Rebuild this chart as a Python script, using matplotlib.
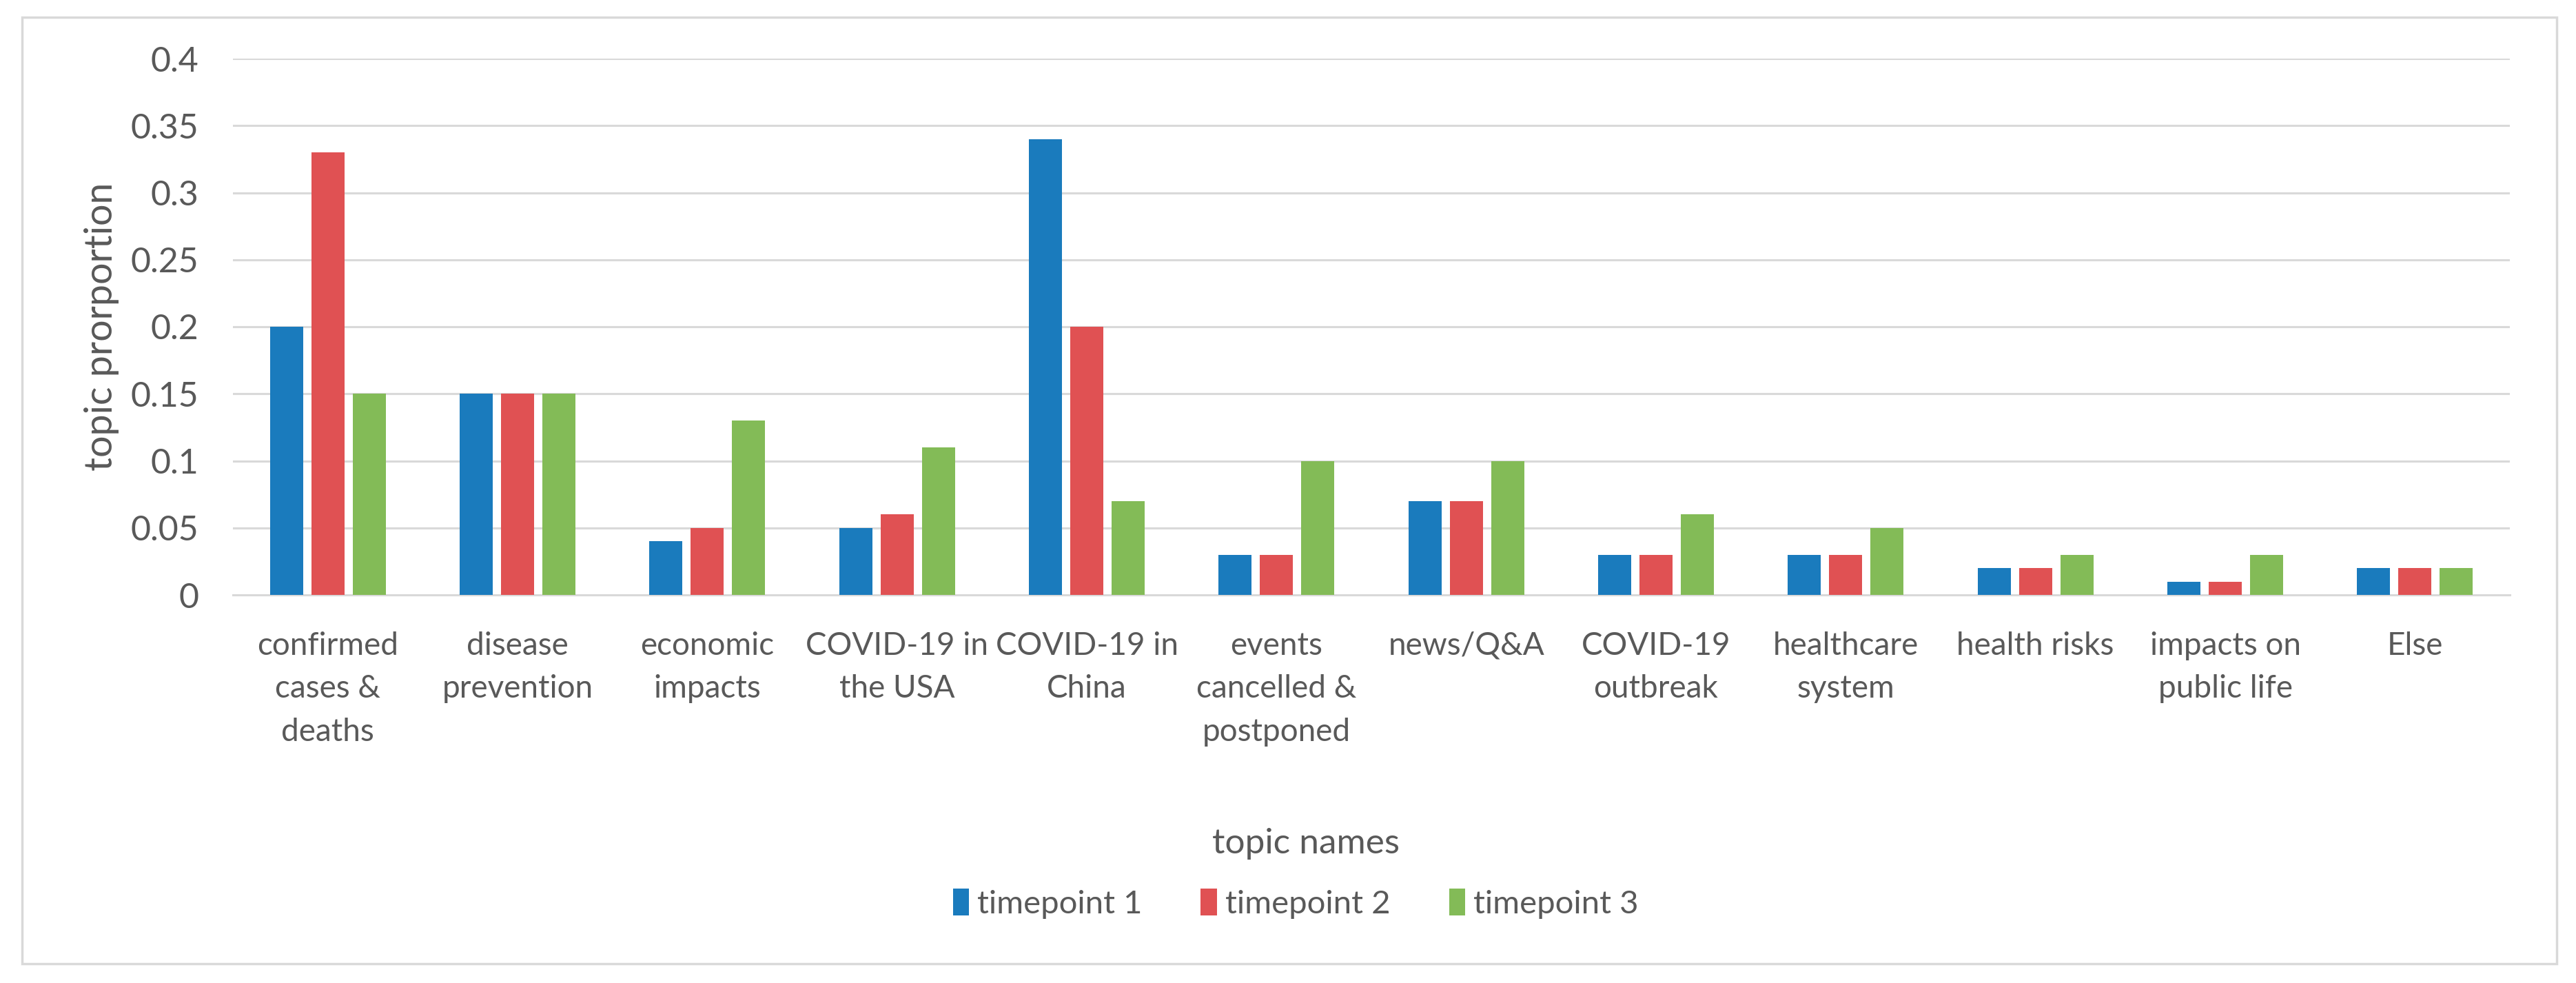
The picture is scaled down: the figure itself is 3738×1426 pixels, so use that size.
import matplotlib
matplotlib.use('Agg')
import matplotlib.pyplot as plt
from matplotlib.patches import Rectangle
import numpy as np

# datos
topics = ['confirmed\ncases &\ndeaths', 'disease\nprevention', 'economic\nimpacts',
          'COVID-19 in\nthe USA', 'COVID-19 in\nChina', 'events\ncancelled &\npostponed',
          'news/Q&A', 'COVID-19\noutbreak', 'healthcare\nsystem', 'health risks',
          'impacts on\npublic life', 'Else']
timepoint1 = [0.20, 0.15, 0.04, 0.05, 0.34, 0.03, 0.07, 0.03, 0.03, 0.02, 0.01, 0.02]
timepoint2 = [0.33, 0.15, 0.05, 0.06, 0.20, 0.03, 0.07, 0.03, 0.03, 0.02, 0.01, 0.02]
timepoint3 = [0.15, 0.15, 0.13, 0.11, 0.07, 0.10, 0.10, 0.06, 0.05, 0.03, 0.03, 0.02]
series_names = ['timepoint 1', 'timepoint 2', 'timepoint 3']
yticks = [0, 0.05, 0.1, 0.15, 0.2, 0.25, 0.3, 0.35, 0.4]
ytick_labels = ['0', '0.05', '0.1', '0.15', '0.2', '0.25', '0.3', '0.35', '0.4']

colors = ['#1A7BBD', '#E05153', '#83BB57']
gris = '#595959'

plt.rcParams['font.family'] = ['Lato', 'DejaVu Sans']

W, H = 3738, 1426
fig = plt.figure(figsize=(W / 100, H / 100), dpi=100)
ax = fig.add_axes([338 / W, 1 - 863 / H, (3642 - 338) / W, (863 - 85) / H])

x = np.arange(len(topics))
width = 0.175
step = 0.218
for i, (vals, name) in enumerate(zip([timepoint1, timepoint2, timepoint3], series_names)):
    ax.bar(x + (i - 1) * step, vals, width, color=colors[i], label=name, zorder=3)

ax.set_xlim(-0.5, len(topics) - 0.5)
ax.set_ylim(0, 0.4)
ax.set_yticks(yticks)
ax.set_yticklabels(ytick_labels, fontsize=36, color=gris)
ax.set_xticks(x)
ax.set_xticklabels(topics, fontsize=33, color=gris, linespacing=1.6, va='top')
ax.tick_params(axis='both', length=0)
ax.tick_params(axis='y', pad=36)
ax.tick_params(axis='x', pad=38)

ax.grid(axis='y', color='#D9D9D9', linewidth=2.2, zorder=0)
for s in ['top', 'right', 'left']:
    ax.spines[s].set_visible(False)
ax.spines['bottom'].set_color('#D9D9D9')
ax.spines['bottom'].set_linewidth(2.2)

ax.set_ylabel('topic prorportion', fontsize=40, color=gris)
ax.yaxis.set_label_coords(-0.050, 0.5)

fig.text(1895 / W, 1 - 1224 / H, 'topic names', fontsize=37, color=gris,
         ha='center', va='center')

fig.legend(loc='center', bbox_to_anchor=(1880 / W, 1 - 1311 / H), ncol=3,
           frameon=False, fontsize=34, handlelength=0.5, handleheight=0.9,
           handletextpad=0.25, columnspacing=1.8, labelcolor=gris)

# marco exterior
fig.patches.append(Rectangle((32 / W, 1 - 1398 / H), (3710 - 32) / W, (1398 - 25) / H,
                             transform=fig.transFigure, fill=False,
                             edgecolor='#D9D9D9', linewidth=2.5))

fig.savefig('out.png', dpi=100, facecolor='white')
